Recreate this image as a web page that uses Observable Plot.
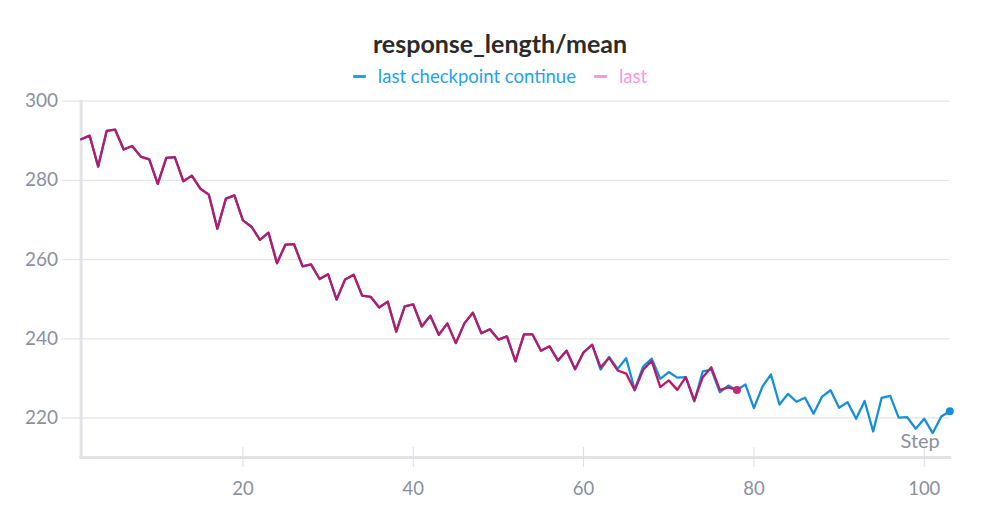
<!DOCTYPE html>
<html><head><meta charset="utf-8">
<script src="https://cdn.jsdelivr.net/npm/d3@7"></script>
<script src="https://cdn.jsdelivr.net/npm/@observablehq/plot@0.6"></script>
<style>
body{margin:0;background:#fff;font-family:Lato,"Noto Sans",sans-serif;}
#wrap{width:1000px;height:525px;position:relative;overflow:hidden}
#head{height:88px;position:relative}
#title{position:absolute;top:28px;left:0;width:1000px;text-align:center;font-size:25px;font-weight:700;color:#2b2b2b}
#legend{position:absolute;top:65px;left:0;width:1000px;display:flex;justify-content:center;font-size:18.5px;}
.item{display:flex;align-items:center;margin:0 9px}
.sw{width:13px;height:3px;margin-right:12px;border-radius:1px}
</style>
</head><body>
<div id="wrap">
<div id="head">
<div id="title">response_length/mean</div>
<div id="legend">
<div class="item" style="color:#1fa3ea"><span class="sw" style="background:#1fa3ea"></span>last checkpoint continue</div>
<div class="item" style="color:#f59ae0"><span class="sw" style="background:#f59ae0"></span>last</div>
</div>
</div>
<div id="chart"></div>
</div>
<script>
const seriesNames = ["last checkpoint continue", "last"];
const lastValues = [
290.4,291.3,283.5,292.5,292.8,287.8,288.7,286.0,285.3,279.1,
285.7,285.9,279.8,281.2,277.9,276.4,267.8,275.4,276.2,269.9,
268.3,265.0,266.8,259.1,263.8,263.9,258.3,258.8,255.1,256.3,
249.9,255.0,256.2,250.9,250.6,247.9,249.4,241.8,248.2,248.7,
243.1,245.8,241.0,243.9,238.9,243.9,246.6,241.4,242.4,239.8,
240.6,234.3,241.1,241.1,237.0,238.1,234.5,237.0,232.3,236.6,
238.5,232.8,235.2,232.0,231.2,227.0,232.2,234.4,227.8,229.5,
227.1,230.3,224.4,230.3,232.8,227.1,227.7,227.1];
const continueTail = [
232.2,235.4,232.4,235.1,227.2,233.0,235.0,229.9,231.6,230.2,
230.3,224.2,231.8,232.2,226.5,228.2,227.0,228.5,222.5,227.9,
231.0,223.4,226.1,224.1,225.1,221.1,225.4,227.0,222.6,224.0,
219.8,224.3,216.6,225.1,225.6,220.1,220.2,217.3,219.8,216.2,
220.4,221.7];
// continuation shares steps 1..61 with "last"
const continueValues = lastValues.slice(0, 61).concat(continueTail);
const xTicks = [20, 40, 60, 80, 100];
const yTicks = [220, 240, 260, 280, 300];

const blueData = continueValues.map((v, i) => ({step: i + 1, value: v}));
const pinkData = lastValues.map((v, i) => ({step: i + 1, value: v}));
const blue = "#168fd8", crimson = "#b9196a", grey = "#8a90a0";

const chart = Plot.plot({
  width: 1000, height: 437,
  marginTop: 12.7, marginBottom: 67.9, marginLeft: 80.6, marginRight: 50.7,
  x: {domain: [1, 103], label: null},
  y: {domain: [210, 300], label: null},
  style: {fontFamily: "Lato, 'Noto Sans', sans-serif", fontSize: "18px", color: grey, background: "#fff"},
  marks: [
    Plot.ruleY(yTicks, {stroke: "#e6e6ea", strokeWidth: 1.3, insetLeft: -19}),
    Plot.frame({anchor: "left", stroke: "#e3e3e7", strokeWidth: 3}),
    Plot.frame({anchor: "bottom", stroke: "#e3e3e7", strokeWidth: 3}),
    Plot.axisY({ticks: yTicks, tickSize: 0, tickPadding: 23, fill: grey, fontSize: 19, label: null}),
    Plot.axisX({ticks: xTicks, tickSize: 20, dy: -10, tickFormat: () => "", stroke: "#dcdce0", label: null}),
    Plot.axisX({ticks: xTicks, tickSize: 0, tickPadding: 24, fill: grey, fontSize: 18.5, label: null}),
    Plot.text(["Step"], {frameAnchor: "bottom-right", dx: -10, dy: -9.5, fontSize: 20, fill: grey, textAnchor: "end"}),
    Plot.lineY(blueData, {x: "step", y: "value", stroke: blue, strokeWidth: 2.3}),
    Plot.lineY(pinkData, {x: "step", y: "value", stroke: crimson, strokeWidth: 2.3}),
    Plot.dot(blueData.slice(-1), {x: "step", y: "value", r: 4, fill: blue}),
    Plot.dot(pinkData.slice(-1), {x: "step", y: "value", r: 4, fill: "#c02a76"})
  ]
});
document.getElementById("chart").appendChild(chart);
</script>
</body></html>
